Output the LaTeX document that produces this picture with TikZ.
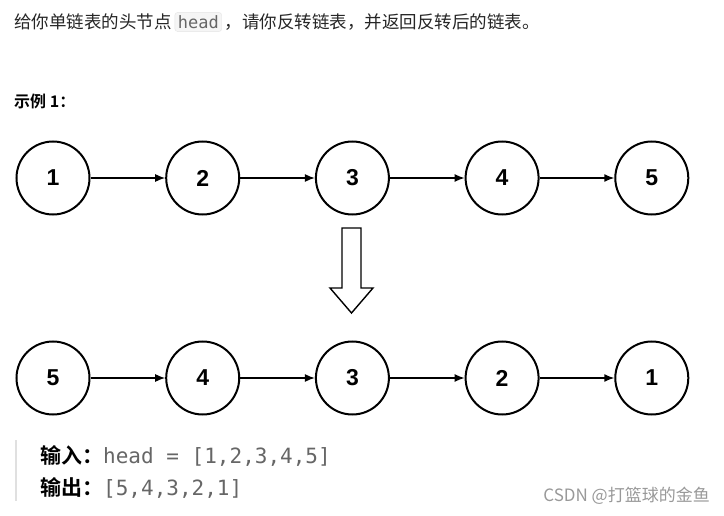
\documentclass[tikz,border=0pt]{standalone}
\usepackage{fontspec}
\usetikzlibrary{arrows.meta}
\setmainfont{Liberation Sans}
\newfontfamily\cjk{Noto Sans CJK SC}
\newfontfamily\cjkb{Noto Sans CJK SC Bold}
\newfontfamily\mono{DejaVu Sans Mono}
\begin{document}
\begin{tikzpicture}[x=1pt,y=-1pt,
  ll/.style={circle,draw,line width=2pt,minimum size=73pt,inner sep=0pt,font=\fontsize{23}{23}\selectfont\bfseries},
  lk/.style={-{Latex[length=10pt,width=8pt]},line width=1.4pt}]
\useasboundingbox[fill=white] (0,0) rectangle (724,516);
\node[anchor=west,inner sep=0pt,font=\cjk\fontsize{17.5}{17.5}\selectfont,text=black!85] (t1) at (14,22) {给你单链表的头节点\,\tikz[baseline=(h.base)]\node[fill=black!4,draw=black!10,rounded corners=3pt,inner sep=3pt,text=black!60,font=\mono\fontsize{17}{17}\selectfont](h){head};\,，请你反转链表，并返回反转后的链表。};
\node[anchor=west,inner sep=0pt,font=\cjkb\fontsize{16}{16}\selectfont] (ex) at (14,101) {示例 1：};
\foreach \v [count=\i] in {1,2,3,4,5}{
  \node[ll] (a\i) at ({53+149.7*(\i-1)},178) {\v};}
\foreach \v [count=\i] in {5,4,3,2,1}{
  \node[ll] (b\i) at ({53+149.7*(\i-1)},378) {\v};}
\foreach \i [evaluate=\i as \j using int(\i+1)] in {1,...,4}{
  \draw[lk] (a\i) -- (a\j); \draw[lk] (b\i) -- (b\j);}
\draw[line width=1.4pt,fill=white] (342,228) -- (361,228) -- (361,288) -- (373,288) -- (351.5,313) -- (330,288) -- (342,288) -- cycle;
\draw[black!12,line width=2.5pt] (16,440) -- (16,501);
\node[anchor=west,inner sep=0pt,font=\fontsize{21}{21}\selectfont] (in) at (40,456) {{\cjkb 输入：}{\mono\color{black!60}head = [1,2,3,4,5]}};
\node[anchor=west,inner sep=0pt,font=\fontsize{21}{21}\selectfont] (out) at (40,488) {{\cjkb 输出：}{\mono\color{black!60}[5,4,3,2,1]}};
\node[anchor=east,inner sep=0pt,font=\cjk\fontsize{17}{17}\selectfont,text=black!40] (wm) at (710,496) {CSDN @打篮球的金鱼};
\end{tikzpicture}
\end{document}
